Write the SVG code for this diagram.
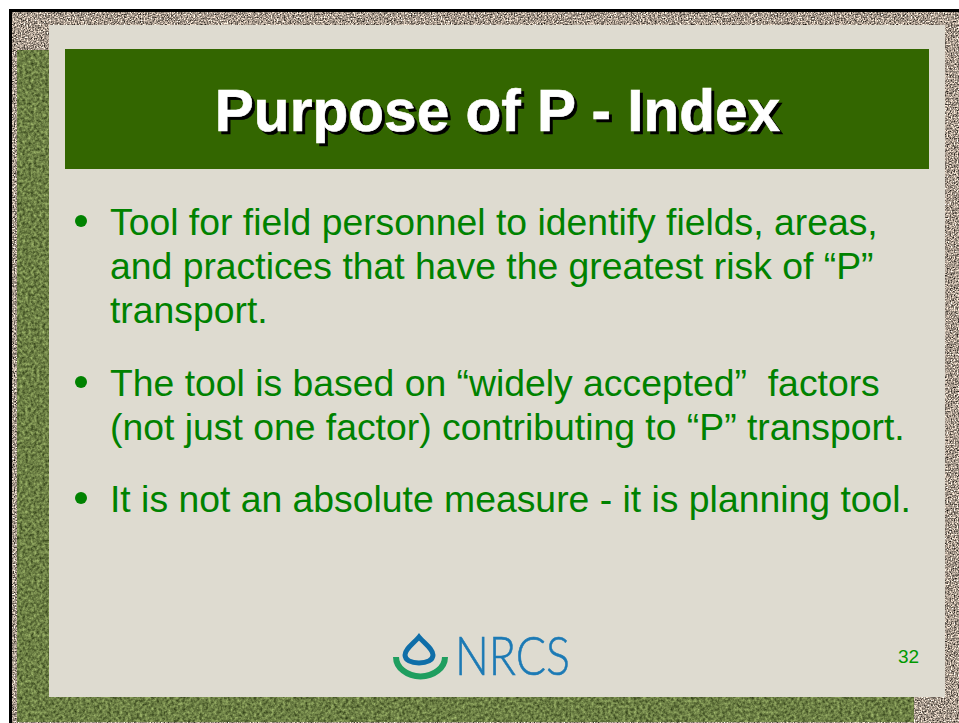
<svg xmlns="http://www.w3.org/2000/svg" width="959" height="723" viewBox="0 0 959 723">
<style>
.body{font-family:"Liberation Sans",Arial,sans-serif;font-size:37.35px;fill:#008200;white-space:pre}
.title{font-family:"Liberation Sans",Arial,sans-serif;font-size:58.6px;font-weight:700;text-anchor:middle;stroke-width:0.6px}
</style>
<defs>
<filter id="stone" x="0" y="0" width="100%" height="100%" color-interpolation-filters="sRGB">
<feTurbulence type="fractalNoise" baseFrequency="0.7" numOctaves="2" seed="4"/>
<feColorMatrix type="matrix" values="1.7 0 0 0 -0.2  1.6 0 0 0 -0.2  1.5 0 0 0 -0.2  0 0 0 0 1"/>
</filter>
<filter id="moss" x="0" y="0" width="100%" height="100%" color-interpolation-filters="sRGB">
<feTurbulence type="fractalNoise" baseFrequency="0.35" numOctaves="3" seed="9"/>
<feColorMatrix type="matrix" values="0.6 0 0 0 0.12  0.65 0 0 0 0.17  0.45 0 0 0 0.04  0 0 0 0 1"/>
</filter>
</defs>
<rect width="959" height="723" fill="#ffffff"/>
<rect x="9" y="9" width="950" height="714" fill="#000000"/>
<rect x="12" y="12" width="947" height="711" fill="#a89a8c" filter="url(#stone)"/>
<rect x="17" y="50" width="897" height="672" fill="#6b7f45" filter="url(#moss)"/>
<rect id="panel" x="49" y="25" width="896" height="672" fill="#dedbd0"/>
<rect id="header" x="65" y="49" width="864" height="120" fill="#336600"/>
<g id="title">
<text class="title" x="500.500" y="134" fill="#000000" stroke="#000000">Purpose of P - Index</text>
<text class="title" x="497.500" y="131" fill="#ffffff" stroke="#ffffff">Purpose of P - Index</text>
</g>
<g id="bullet-1">
<circle cx="81" cy="221" r="6" fill="#008200"/>
<text class="body" x="110" y="235">Tool for field personnel to identify fields, areas,</text>
<text class="body" x="110" y="279">and practices that have the greatest risk of “P”</text>
<text class="body" x="110" y="323">transport.</text>
</g>
<g id="bullet-2">
<circle cx="81" cy="382" r="6" fill="#008200"/>
<text class="body" x="110" y="396">The tool is based on “widely accepted”  factors</text>
<text class="body" x="110" y="440">(not just one factor) contributing to “P” transport.</text>
</g>
<g id="bullet-3">
<circle cx="81" cy="498" r="6" fill="#008200"/>
<text class="body" x="110" y="512">It is not an absolute measure - it is planning tool.</text>
</g>
<g id="logo">
<path d="M396 657 A24 19 0 0 0 445 657" fill="none" stroke="#1f9e5f" stroke-width="6"/>
<path d="M419 637 C424 643 433 649 433 655 C433 660 427 663 419 663 C411 663 405 660 405 655 C405 649 414 643 419 637Z" fill="none" stroke="#0f6ea8" stroke-width="5"/>
<text x="455" y="675" font-family="Lato,'Open Sans',sans-serif" font-weight="300" font-size="54" fill="#1c7ab5" stroke="#1c7ab5" stroke-width="0.6" textLength="115" lengthAdjust="spacingAndGlyphs">NRCS</text>
</g>
<g id="page-number">
<text x="898" y="663" font-family="'Liberation Sans',Arial,sans-serif" font-size="19" fill="#009900">32</text>
</g>
</svg>
